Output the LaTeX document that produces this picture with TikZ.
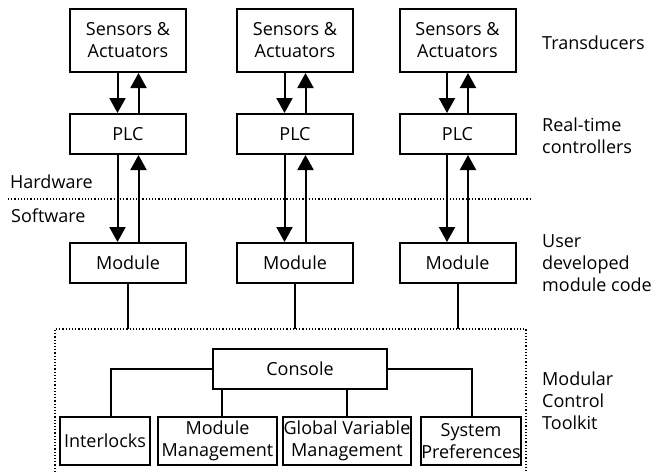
\documentclass[tikz,border=0pt]{standalone}
\usepackage{fontspec}
\setmainfont{Open Sans}
\usetikzlibrary{arrows.meta,calc}
\begin{document}
\begin{tikzpicture}[x=1pt,y=-1pt,
  every node/.style={font=\fontsize{18}{22}\selectfont},
  box/.style={draw,line width=2pt,minimum width=116pt,inner sep=0pt,align=center},
  sbox/.style={draw,line width=2pt,inner sep=0pt,align=center},
  lbl/.style={anchor=west,align=left,inner sep=0pt},
  conn/.style={line width=2pt},
  arr/.style={line width=2pt,-{Triangle[width=16pt,length=15pt]}},
  dots/.style={line width=1.2pt,dash pattern=on 1.2pt off 2pt}]
\useasboundingbox (0,0) rectangle (656,472);
% columns
\foreach \i/\cx in {1/128,2/295,3/457.5}{
  \node[box,minimum height=63pt] (sa\i) at (\cx,40.5) {Sensors \&\\Actuators};
  \node[box,minimum height=40pt] (plc\i) at (\cx,134) {PLC};
  \node[box,minimum height=40pt] (mod\i) at (\cx,263) {Module};
  \draw[arr] ([xshift=-10.5pt]sa\i.south) -- ([xshift=-10.5pt]plc\i.north);
  \draw[arr] ([xshift=10.5pt]plc\i.north) -- ([xshift=10.5pt]sa\i.south);
  \draw[arr] ([xshift=-10.5pt]plc\i.south) -- ([xshift=-10.5pt]mod\i.north);
  \draw[arr] ([xshift=10.5pt]mod\i.north) -- ([xshift=10.5pt]plc\i.south);
}
% hardware / software divider
\coordinate (hl) at (8,199);
\coordinate (hr) at (530,199);
\draw[dots] (hl) -- (hr);
\node[lbl] (hw) at (10,182) {Hardware};
\node[lbl] (sw) at (11,216) {Software};
% toolkit dotted frame
\coordinate (tkNW) at (55,329);
\coordinate (tkNE) at (526,329);
\coordinate (tkSW) at (55,472);
\coordinate (tkSE) at (526,472);
\draw[dots] (tkSW) -- (tkNW) -- (tkNE) -- (tkSE);
\draw[conn] (mod1.south) -- (mod1.south |- tkNW);
\draw[conn] (mod2.south) -- (mod2.south |- tkNW);
\draw[conn] (mod3.south) -- (mod3.south |- tkNW);
% console and tools
\node[sbox,minimum width=174pt,minimum height=40pt] (con) at (300,369) {Console};
\node[sbox,minimum width=90pt,minimum height=48pt] (il) at (105,441) {Interlocks};
\node[sbox,minimum width=119pt,minimum height=48pt] (mm) at (217.5,441) {Module\\Management};
\node[sbox,minimum width=128pt,minimum height=48pt] (gv) at (347,441) {Global Variable\\Management};
\node[sbox,minimum width=98pt,minimum height=48pt] (sp) at (471,441) {System\\Preferences};
\draw[conn] (con.west) -| ([xshift=6pt]il.north);
\draw[conn] (con.east) -| ([xshift=1pt]sp.north);
\draw[conn] ([xshift=-78pt]con.south) -- ([xshift=-78pt]con.south |- mm.north);
\draw[conn] ([xshift=47pt]con.south) -- ([xshift=47pt]con.south |- gv.north);
% right labels
\node[lbl] (tr) at (542,43) {Transducers};
\node[lbl] (rt) at (542,136) {Real-time\\controllers};
\node[lbl] (ud) at (542,263) {User\\developed\\module code};
\node[lbl] (mc) at (542,401) {Modular\\Control\\Toolkit};
\end{tikzpicture}
\end{document}
